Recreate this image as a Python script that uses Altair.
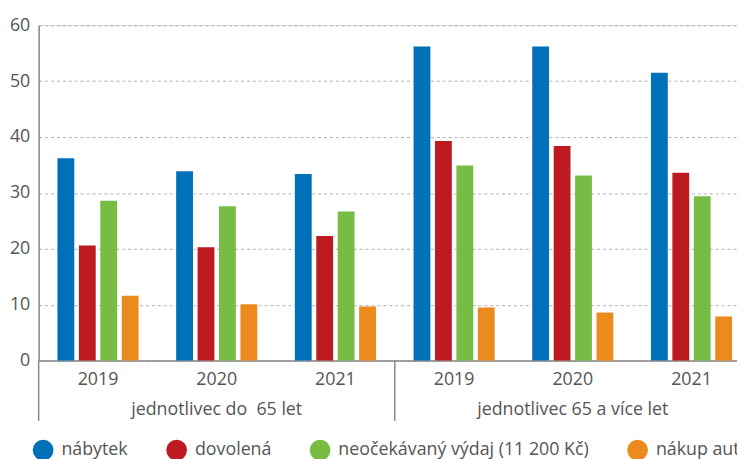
import json
import altair as alt
import pandas as pd

# ---- data ----
groups = ["A2019", "A2020", "A2021", "B2019", "B2020", "B2021"]
years = ["2019", "2020", "2021", "2019", "2020", "2021"]
categories = ["jednotlivec do\u00a0 65 let", "jednotlivec 65 a více let"]
series = ["nábytek", "dovolená", "neočekávaný výdaj (11 200 Kč)", "nákup auta"]
colors = ["#0070b8", "#be1a21", "#77bd43", "#ec8b1d"]
nabytek = [36.2, 33.9, 33.4, 56.2, 56.2, 51.5]
dovolena = [20.6, 20.3, 22.3, 39.3, 38.4, 33.6]
vydaj = [28.6, 27.6, 26.7, 34.9, 33.1, 29.4]
auto = [11.6, 10.1, 9.7, 9.5, 8.6, 7.9]
separators = ["A2019", "B2019"]

rows = []
for name, vals in zip(series, [nabytek, dovolena, vydaj, auto]):
    for g, v in zip(groups, vals):
        rows.append({"group": g, "series": name, "value": v})
df = pd.DataFrame(rows)
sep_df = pd.DataFrame({"group": separators})

# axis label expression: year, plus category under the middle year
label_map = {}
for i, g in enumerate(groups):
    if g.endswith("2020"):
        label_map[g] = [years[i], categories[0] if g.startswith("A") else categories[1]]
    else:
        label_map[g] = years[i]
expr = "''"
for g, lab in label_map.items():
    expr = f"datum.value == {json.dumps(g)} ? {json.dumps(lab)} : ({expr})"

FONT = "Open Sans"
TXT = "#555555"
AX = "#8a8a8a"

x_scale = alt.Scale(domain=groups, range=[0, 720], paddingInner=0, paddingOuter=0)

bars = alt.Chart(df).mark_bar().encode(
    x=alt.X("group:N", scale=x_scale, sort=groups,
            axis=alt.Axis(title=None, labelExpr=expr, labelAngle=0, ticks=False,
                          labelPadding=10, labelLineHeight=31, labelFontSize=18,
                          labelFont=FONT, labelColor=TXT, domainColor=AX,
                          domainWidth=1.5, grid=False, labelLimit=0,
                          labelOverlap=False)),
    xOffset=alt.XOffset("series:N", sort=series,
                        scale=alt.Scale(domain=series, paddingInner=0.215, paddingOuter=0.877)),
    y=alt.Y("value:Q", scale=alt.Scale(domain=[0, 60]),
            axis=alt.Axis(title=None, values=[0, 10, 20, 30, 40, 50, 60], ticks=False,
                          labelPadding=9, labelFontSize=18, labelFont=FONT,
                          labelColor=TXT, domainColor=AX, domainWidth=1.5,
                          grid=True, gridColor="#b0b0b0", gridDash=[3, 3],
                          gridWidth=1)),
    color=alt.Color("series:N", sort=series,
                    scale=alt.Scale(domain=series, range=colors),
                    legend=alt.Legend(orient="none", legendX=-6, legendY=419,
                                      direction="horizontal", title=None,
                                      symbolType="circle", symbolSize=441,
                                      symbolStrokeWidth=0, symbolOpacity=1,
                                      labelFontSize=18, labelFont=FONT,
                                      labelColor=TXT, labelLimit=0,
                                      columnPadding=38, labelOffset=8)),
)

rules = alt.Chart(sep_df).mark_rule(color=AX, strokeWidth=1.5).encode(
    x=alt.X("group:N", sort=groups, bandPosition=0),
    y=alt.value(339),
    y2=alt.value(400),
)

chart = alt.layer(bars, rules).properties(
    width=706,
    height=339,
    autosize=alt.AutoSizeParams(type="none"),
    padding={"left": 31, "top": 15, "right": 0, "bottom": 97},
).configure_view(stroke=None).configure(font=FONT)

chart.save("out.html", embed_options={"renderer": "svg", "actions": False})
